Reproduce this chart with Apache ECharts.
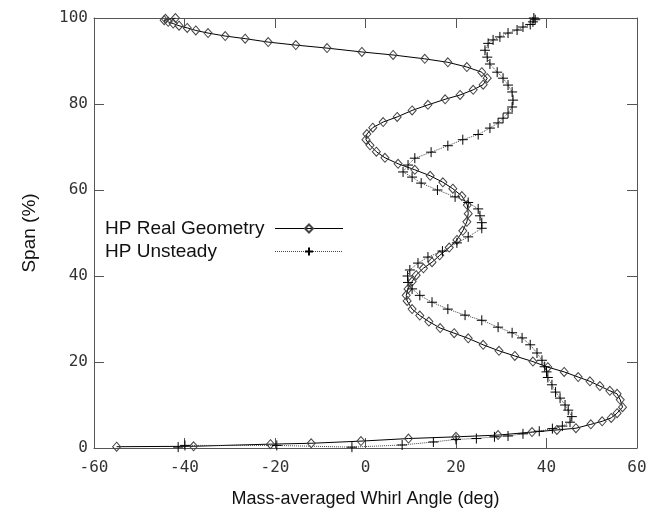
<!DOCTYPE html>
<html>
<head>
<meta charset="UTF-8">
<title>Whirl angle</title>
<script src="https://cdn.jsdelivr.net/npm/echarts@6/dist/echarts.min.js"></script>
<style>
  html, body { margin: 0; padding: 0; background: #fff; }
  #main { width: 671px; height: 517px; }
</style>
</head>
<body>
<div id="main"></div>
<script type="text/javascript">
// HP Real Geometry (diamonds, solid line)
var realAngle = [-55, -38, -21, -12, -1, 9.5, 20, 29.3, 36.8, 42.3, 46.5, 49.8, 52.3, 54.3, 55.6, 56.8, 56.3, 55.6, 54, 51.8,
  49.6, 47, 43.9, 40.3, 37, 33, 29.5, 26, 22.7, 19.6, 16.5, 14, 12, 10.3, 9.2, 9.0, 9.4, 10.3, 11.2, 12.8,
  14.7, 16.4, 18.5, 20.2, 21.5, 22.4, 22.7, 22.5, 21.3, 19.3, 17.1, 14.3, 10.9, 7.2, 4.3, 2.4, 1.0, 0.1, 0.3, 1.6,
  3.9, 7, 10.3, 13.8, 17.6, 20.9, 23.8, 26, 26.9, 25.7, 22.4, 18.2, 13.1, 6.1, -0.8, -8.5, -15.4, -21.5, -26.6, -31,
  -34.8, -37.5, -39.4, -41.2, -42.5, -43.6, -44.5, -44.2, -42];
var realSpan = [0.3, 0.4, 0.9, 1.1, 1.6, 2.2, 2.6, 3.0, 3.7, 4.2, 4.6, 5.5, 6.2, 7.0, 8.1, 9.5, 11.2, 12.6, 13.3, 14.4,
  15.5, 16.5, 17.7, 18.8, 20.1, 21.4, 22.6, 24, 25.5, 26.7, 27.9, 29.4, 30.8, 32.3, 34.2, 35.5, 37, 38.7, 40.2, 41.8,
  43.2, 44.8, 46.6, 48.4, 50.5, 52.6, 54.5, 56.5, 58.6, 60.3, 61.8, 63.3, 64.7, 66.1, 67.5, 68.9, 70.4, 71.7, 73.0, 74.5,
  75.8, 77, 78.5, 79.8, 81.1, 82.1, 83.3, 84.5, 86, 87.4, 88.6, 89.7, 90.5, 91.4, 92.1, 93, 93.7, 94.4, 95.2, 95.8,
  96.5, 97.1, 97.7, 98.2, 98.7, 99.1, 99.5, 99.8, 100];

// HP Unsteady (crosses, dotted line)
var unsteadyAngle = [-41.4, -39.9, -19.6, -3, 8.1, 15, 20, 24.5, 28.5, 31.5, 34.8, 38.4, 41.3, 43.5, 45.2, 45.6, 44.8, 44.1, 43, 42,
  41.2, 40.3, 40, 39.6, 39, 37.9, 36.4, 34.6, 32.4, 29.3, 25.7, 22, 18.2, 14.7, 12, 10.3, 9.4, 9.3, 9.8, 11.6,
  13.8, 17, 20.2, 22.7, 25.7, 25.7, 25.3, 24.9, 22.7, 19.8, 15.9, 12.3, 10.3, 8.3, 9.4, 10.9, 14.5, 18.2, 21.5, 24.9,
  27.5, 29.3, 30.4, 31.5, 32.4, 32.6, 32.4, 31.5, 30.4, 29.1, 27.5, 26.9, 26.4, 27.1, 28.2, 29.7, 31.5, 33.5, 34.8, 36.4,
  37, 37.5, 37.2];
var unsteadySpan = [0.2, 0.6, 0.6, 0.2, 0.7, 1.4, 2.0, 2.2, 2.6, 2.8, 3.3, 3.9, 4.5, 5.1, 6.0, 7.3, 8.8, 10, 11.6, 13,
  14.7, 16.4, 17.7, 18.9, 20.4, 22.1, 24, 25.6, 26.8, 28.1, 29.7, 30.9, 32.3, 33.9, 35.5, 37, 38.5, 40, 41.4, 43,
  44.4, 45.8, 47.7, 49.1, 51.1, 52.4, 54, 55.6, 57.1, 58.4, 60, 61.6, 63, 64.2, 65.8, 67.4, 68.8, 70.3, 71.7, 72.9,
  74.4, 75.6, 76.7, 77.9, 79.3, 80.9, 82.8, 84.4, 86, 87.4, 89.3, 90.9, 92.5, 94.1, 94.9, 95.6, 96.5, 97.2, 97.9, 98.5,
  99.1, 99.6, 100];

var xTicks = [-60, -40, -20, 0, 20, 40, 60];
var yTicks = [0, 20, 40, 60, 80, 100];

function zip(a, b) {
  var out = [];
  for (var i = 0; i < a.length; i++) out.push([a[i], b[i]]);
  return out;
}

var crossPath = 'path://M0,5L10,5M5,0L5,10';
var tickFont = 'DejaVu Sans Mono';
var frameColor = '#555';

var chart = echarts.init(document.getElementById('main'));

function frameAxis(extra) {
  var base = {
    type: 'value',
    axisLine: { show: true, onZero: false, lineStyle: { color: frameColor, width: 1 } },
    axisTick: { show: true, inside: true, length: 10, lineStyle: { color: frameColor } },
    splitLine: { show: false },
    axisLabel: { show: false }
  };
  for (var k in extra) base[k] = extra[k];
  return base;
}

var option = {
  animation: false,
  backgroundColor: '#fff',
  grid: { left: 94, top: 18, right: 34, bottom: 69 },
  legend: {
    orient: 'vertical',
    left: 100,
    top: 214,
    align: 'right',
    itemWidth: 68,
    itemHeight: 10,
    itemGap: 4,
    lineStyle: { width: 1 },
    formatter: function (name) { return '{t|' + name + '}'; },
    textStyle: {
      fontFamily: 'Liberation Sans', fontSize: 19, color: '#111',
      rich: { t: { width: 165, align: 'left', fontFamily: 'Liberation Sans', fontSize: 19, color: '#111' } }
    },
    data: ['HP Real Geometry', 'HP Unsteady']
  },
  xAxis: [
    frameAxis({
      position: 'bottom',
      min: xTicks[0], max: xTicks[xTicks.length - 1], interval: 20,
      axisLabel: { show: true, margin: 12, fontFamily: tickFont, fontSize: 16, color: '#333' },
      name: 'Mass-averaged Whirl Angle (deg)',
      nameLocation: 'middle',
      nameGap: 42,
      nameTextStyle: { fontFamily: 'Liberation Sans', fontSize: 18, color: '#111' }
    }),
    frameAxis({ position: 'top', min: -60, max: 60, interval: 20 })
  ],
  yAxis: [
    frameAxis({
      position: 'left',
      min: yTicks[0], max: yTicks[yTicks.length - 1], interval: 20,
      axisLabel: { show: true, margin: 6, fontFamily: tickFont, fontSize: 16, color: '#333' },
      name: 'Span (%)',
      nameLocation: 'middle',
      nameGap: 55,
      nameTextStyle: { fontFamily: 'Liberation Sans', fontSize: 19, color: '#111' }
    }),
    frameAxis({ position: 'right', min: 0, max: 100, interval: 20 })
  ],
  series: [
    {
      name: 'HP Real Geometry',
      type: 'line',
      data: zip(realAngle, realSpan),
      symbol: 'diamond',
      symbolSize: [8, 9],
      showAllSymbol: true,
      lineStyle: { color: '#000', width: 1, type: 'solid' },
      itemStyle: { color: 'rgba(255,255,255,0)', borderColor: '#444', borderWidth: 1 }
    },
    {
      name: 'HP Unsteady',
      type: 'line',
      data: zip(unsteadyAngle, unsteadySpan),
      symbol: crossPath,
      symbolSize: 10,
      showAllSymbol: true,
      lineStyle: { color: '#444', width: 1, type: [1, 1] },
      itemStyle: { color: 'rgba(255,255,255,0)', borderColor: '#000', borderWidth: 1 }
    }
  ]
};

chart.setOption(option);
</script>
</body>
</html>
